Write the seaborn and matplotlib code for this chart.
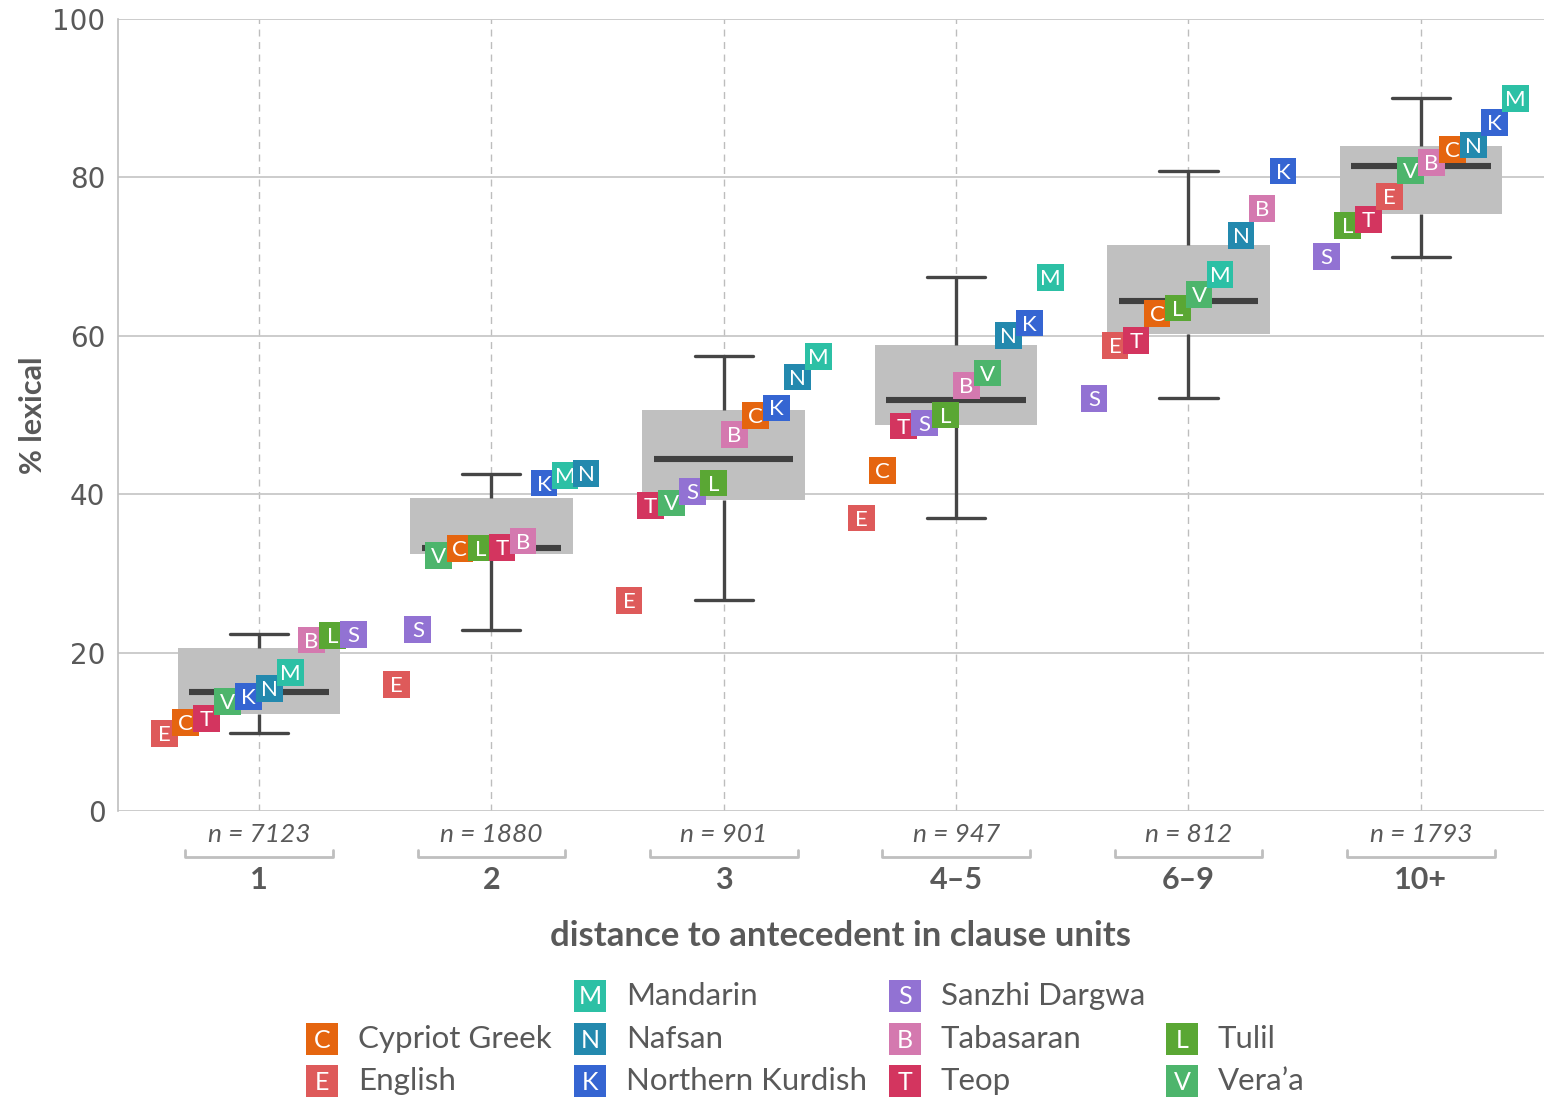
import numpy as np
import pandas as pd
import matplotlib
matplotlib.use("Agg")
import matplotlib.pyplot as plt
from matplotlib.patches import Rectangle
from matplotlib.lines import Line2D
import matplotlib.transforms as mtransforms
import seaborn as sns

# ---- data ---------------------------------------------------------------
distances = ["1", "2", "3", "4–5", "6–9", "10+"]
n_tokens = [7123, 1880, 901, 947, 812, 1793]

languages = ["Cypriot Greek", "English", "Mandarin", "Nafsan", "Northern Kurdish",
             "Sanzhi Dargwa", "Tabasaran", "Teop", "Tulil", "Vera’a"]
codes = ["C", "E", "M", "N", "K", "S", "B", "T", "L", "V"]
colors = ["#E5650F", "#DE5A5A", "#2CC0A5", "#2389AE", "#3565D2",
          "#9272D3", "#D479AF", "#D3355F", "#5AA734", "#4DB56C"]

# % lexical mentions per language, one value per distance bin
cypriot_greek    = [11.2, 33.1, 49.9, 43.0, 62.8, 83.5]
english          = [9.8, 16.0, 26.6, 37.0, 58.8, 77.6]
mandarin         = [17.5, 42.4, 57.4, 67.4, 67.7, 90.0]
nafsan           = [15.5, 42.6, 54.8, 60.0, 72.7, 84.1]
northern_kurdish = [14.5, 41.4, 50.9, 61.6, 80.8, 86.9]
sanzhi_dargwa    = [22.3, 22.9, 40.3, 49.0, 52.1, 70.0]
tabasaran        = [21.6, 34.1, 47.5, 53.7, 76.1, 81.9]
teop             = [11.7, 33.3, 38.6, 48.6, 59.4, 74.7]
tulil            = [22.2, 33.2, 41.4, 50.0, 63.5, 73.9]
veraa            = [13.8, 32.3, 38.9, 55.3, 65.2, 80.9]

series = [cypriot_greek, english, mandarin, nafsan, northern_kurdish,
          sanzhi_dargwa, tabasaran, teop, tulil, veraa]

# ---- long table ----------------------------------------------------------
rows = []
for lang, code, vals in zip(languages, codes, series):
    for d, v in zip(distances, vals):
        rows.append({"language": lang, "code": code, "distance": d, "value": v})
df = pd.DataFrame(rows)
df["pos"] = df["distance"].map({d: i for i, d in enumerate(distances)})
df["rank"] = df.groupby("distance")["value"].rank(method="first").astype(int) - 1
STEP = 0.0905
df["xpos"] = df["pos"] + (df["rank"] - 4.5) * STEP

palette = dict(zip(languages, colors))

# ---- style ---------------------------------------------------------------
sns.set_style("white")
TXT = "#595959"
SANS = ["Lato", "DejaVu Sans"]
plt.rcParams["font.family"] = ["DejaVu Sans"]

fig = plt.figure(figsize=(15.44, 11.0), dpi=100)
ax = fig.add_axes([118 / 1544, 1 - 811 / 1100, 1 - 118 / 1544, (811 - 19) / 1100])

# ---- boxes -----------------------------------------------------------------
sns.boxplot(data=df, x="distance", y="value", order=distances, ax=ax,
            width=0.7, whis=1.5, showfliers=False, color="#C0C0C0",
            linecolor="#454545", linewidth=2.4, capwidths=0.25,
            boxprops=dict(facecolor="#C0C0C0", edgecolor="none", linewidth=0),
            whiskerprops=dict(color="#454545", linewidth=2.4),
            capprops=dict(color="#454545", linewidth=2.4),
            medianprops=dict(visible=False))

# median bars, slightly inset within the boxes
med = df.groupby("pos")["value"].median()
ax.hlines(med.values, med.index - 0.30, med.index + 0.30,
          color="#404040", linewidth=4.4, zorder=5)

# ---- language markers (higher values drawn on top) --------------------------
for r in range(10):
    sub = df[df["rank"] == r]
    sns.scatterplot(data=sub, x="xpos", y="value", hue="language", palette=palette,
                    marker="s", s=370, linewidth=0, legend=False, ax=ax,
                    zorder=10 + 2 * r)
    for _, row in sub.iterrows():
        ax.text(row["xpos"], row["value"] - 0.2, row["code"], ha="center",
                va="center", color="white", fontsize=16, family=SANS,
                zorder=11 + 2 * r)

# ---- axes cosmetics ----------------------------------------------------------
ax.set_xlim(-0.607, 5.53)
ax.set_ylim(0, 100)
ax.set_yticks([0, 20, 40, 60, 80, 100])
ax.tick_params(axis="y", labelsize=20, labelcolor=TXT, color="#BFBFBF",
               length=6, width=1.2, pad=3)
ax.tick_params(axis="x", length=0, labelbottom=False)
ax.set_xticks(range(len(distances)))
ax.grid(axis="y", color="#C8C8C8", linewidth=1.3)
ax.grid(axis="x", color="#BDBDBD", linewidth=1.0, linestyle=(0, (5, 4)))
ax.set_axisbelow(True)
for s in ["top", "right", "bottom"]:
    ax.spines[s].set_visible(False)
ax.spines["left"].set_color("#BFBFBF")
ax.spines["left"].set_linewidth(1.2)
ax.set_xlabel("")
ax.set_ylabel("% lexical", fontsize=22, fontweight="bold", color=TXT,
              family=SANS, labelpad=4)

# ---- category annotations under the axis ------------------------------------
trans = mtransforms.blended_transform_factory(ax.transData, ax.transAxes)
for i, (d, n) in enumerate(zip(distances, n_tokens)):
    ax.text(i, -0.030, f"n = {n}", transform=trans, ha="center", va="center",
            fontsize=19, style="italic", color=TXT, family=SANS)
    ax.add_line(Line2D([i - 0.318, i - 0.318, i + 0.318, i + 0.318],
                       [-0.049, -0.058, -0.058, -0.049], transform=trans,
                       color="#BFBFBF", linewidth=2, clip_on=False))
    ax.text(i, -0.087, d, transform=trans, ha="center", va="center",
            fontsize=22, fontweight="bold", color=TXT, family=SANS)

fig.text(840 / 1544, 1 - 936 / 1100, "distance to antecedent in clause units",
         ha="center", va="center", fontsize=25, fontweight="bold", color=TXT,
         family=SANS)

# ---- legend ----------------------------------------------------------------
col_x = [322, 590, 905, 1182]
row_y = [996, 1039, 1081]
slots = [(0, 1), (0, 2), (1, 0), (1, 1), (1, 2), (2, 0), (2, 1), (2, 2), (3, 1), (3, 2)]
W, H = 1544, 1100
for lang, code, col, (c, r) in zip(languages, codes, colors, slots):
    cx, cy = col_x[c], row_y[r]
    fig.add_artist(Rectangle(((cx - 16) / W, 1 - (cy + 16) / H), 32 / W, 32 / H,
                             transform=fig.transFigure, facecolor=col,
                             edgecolor="none"))
    fig.text(cx / W, 1 - (cy + 1) / H, code, ha="center", va="center",
             color="white", fontsize=18, family=SANS)
    fig.text((cx + 36) / W, 1 - cy / H, lang, ha="left", va="center",
             color=TXT, fontsize=22.5, family=SANS)

fig.savefig("out.png", dpi=100)
